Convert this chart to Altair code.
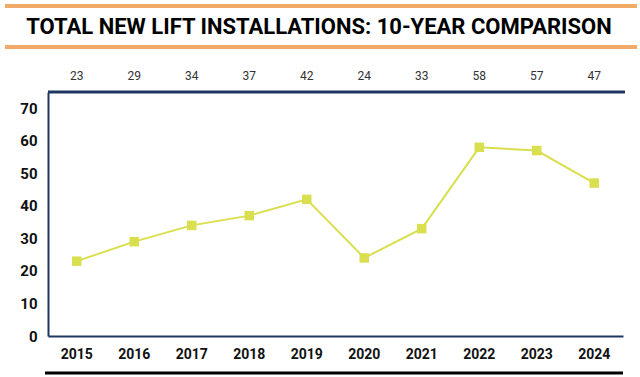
import altair as alt
import pandas as pd

years = ["2015", "2016", "2017", "2018", "2019", "2020", "2021", "2022", "2023", "2024"]
installs = [23, 29, 34, 37, 42, 24, 33, 58, 57, 47]
y_ticks = [0, 10, 20, 30, 40, 50, 60, 70]
title_text = "TOTAL NEW LIFT INSTALLATIONS: 10-YEAR COMPARISON"

df = pd.DataFrame({"year": years, "value": installs})
one = pd.DataFrame({"a": [0]})

W, H = 575, 244
FONT = "Roboto"
NAVY = "#1f3660"
LINE = "#d9df4f"
ORANGE = "#f2aa68"

x_enc = alt.X("year:O", sort=years, title=None,
              scale=alt.Scale(type="band", paddingInner=0, paddingOuter=0),
              axis=alt.Axis(labelAngle=0, labelFont=FONT, labelFontWeight="bold",
                            labelFontSize=14, labelColor="#111111", labelPadding=11,
                            ticks=False, domainColor=NAVY, domainWidth=2, grid=False))
y_enc = alt.Y("value:Q", title=None,
              scale=alt.Scale(domain=[0, 75], nice=False),
              axis=alt.Axis(values=y_ticks, labelFont=FONT, labelFontWeight="bold",
                            labelFontSize=15, labelColor="#111111", labelPadding=11,
                            ticks=False, domainColor=NAVY, domainWidth=2, grid=False))

base = alt.Chart(df)

line = base.mark_line(color=LINE, strokeWidth=2).encode(x=x_enc, y=y_enc)
pts = base.mark_square(color=LINE, size=90, opacity=1).encode(x=x_enc, y=y_enc)

top_labels = base.mark_text(font=FONT, fontSize=12, color="#333333", baseline="middle").encode(
    x=alt.X("year:O", sort=years), y=alt.value(-16), text="value:Q")

top_frame = alt.Chart(one).mark_rule(color=NAVY, strokeWidth=3).encode(
    x=alt.value(0), x2=alt.value(577), y=alt.value(0))

orange1 = alt.Chart(one).mark_rule(color=ORANGE, strokeWidth=4).encode(
    x=alt.value(-43), x2=alt.value(589), y=alt.value(-86))
orange2 = alt.Chart(one).mark_rule(color=ORANGE, strokeWidth=4).encode(
    x=alt.value(-43), x2=alt.value(589), y=alt.value(-45))
bottom_black = alt.Chart(one).mark_rule(color="#000000", strokeWidth=3).encode(
    x=alt.value(-3), x2=alt.value(575), y=alt.value(281))

title = alt.Chart(one).mark_text(font=FONT, fontWeight="bold", fontSize=22, color="#000000",
                                 baseline="middle", align="center").encode(
    x=alt.value(271), y=alt.value(-65), text=alt.value(title_text))

chart = alt.layer(line, pts, top_labels, top_frame, orange1, orange2, bottom_black, title).properties(
    width=W, height=H,
    autosize=alt.AutoSizeParams(type="none"),
    padding={"left": 48, "top": 92, "right": 17, "bottom": 41},
    background="white",
).configure_view(stroke=None)

chart.save("out.html", embed_options={"renderer": "svg", "actions": False})
